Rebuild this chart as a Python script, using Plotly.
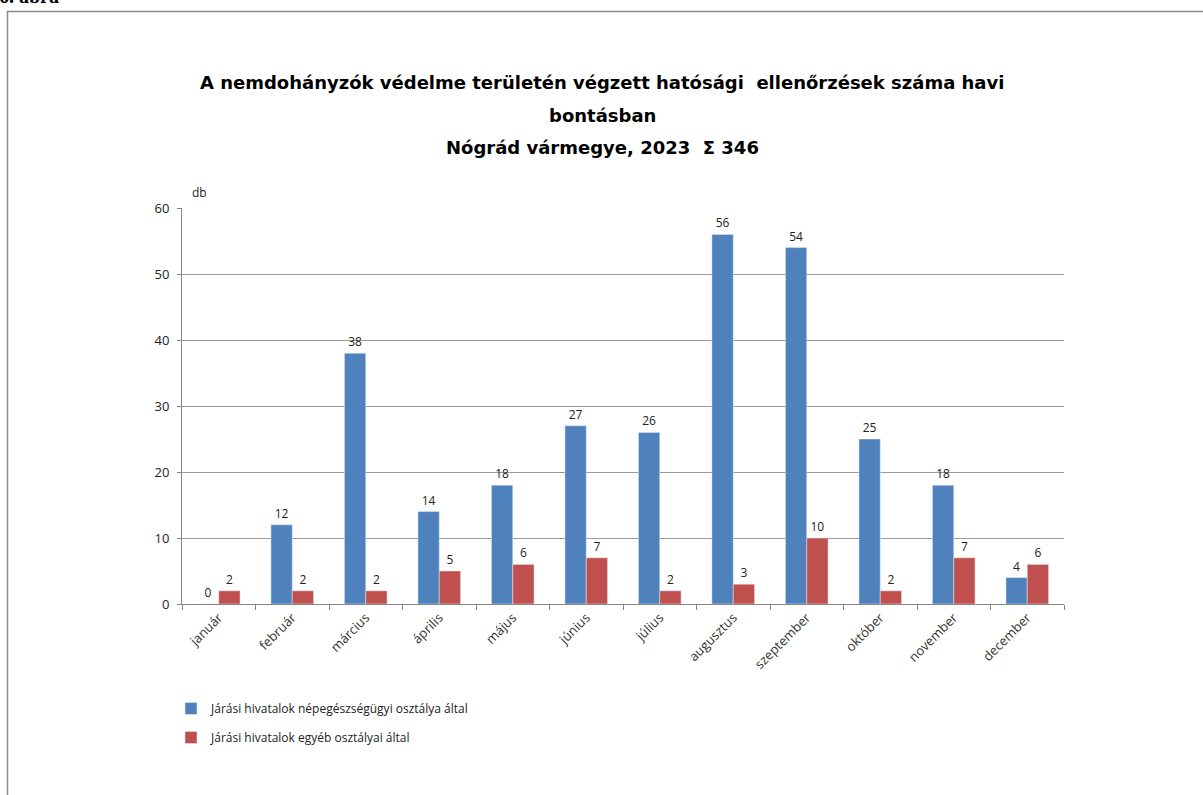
import plotly.graph_objects as go

months = ["január", "február", "március", "április", "május", "június",
          "július", "augusztus", "szeptember", "október", "november", "december"]
nepeg = [0, 12, 38, 14, 18, 27, 26, 56, 54, 25, 18, 4]
egyeb = [2, 2, 2, 5, 6, 7, 2, 3, 10, 2, 7, 6]
name_nepeg = "Járási hivatalok népegészségügyi osztálya által"
name_egyeb = "Járási hivatalok egyéb osztályai által"
title_lines = ["A nemdohányzók védelme területén végzett hatósági  ellenőrzések száma havi",
               "bontásban",
               "Nógrád vármegye, 2023  Σ 346"]

W, H = 1203, 795
L, R, T, B = 182, 139, 208, 191
pw, ph = W - L - R, H - T - B
FONT = "Open Sans"

def px_x(x):
    return (x - L) / pw

def px_y(y):
    return 1 + (T - y) / ph

fig = go.Figure()
fig.add_bar(x=months, y=nepeg, name=name_nepeg, marker_color="#4F81BD",
            legendgroup="a", text=nepeg, textposition="outside", cliponaxis=False,
            textfont=dict(size=12, color="#222", family=FONT))
fig.add_bar(x=months, y=egyeb, name=name_egyeb, marker_color="#C0504D",
            legendgroup="b", text=egyeb, textposition="outside", cliponaxis=False,
            textfont=dict(size=12, color="#222", family=FONT))

ann = []
for line, yy in zip(title_lines, [83, 115, 147]):
    ann.append(dict(text="<b>%s</b>" % line, x=px_x(602), y=px_y(yy), xref="paper", yref="paper",
                    showarrow=False, xanchor="center", yanchor="middle",
                    font=dict(size=18, family="DejaVu Sans", color="#000")))
ann.append(dict(text="db", x=px_x(190), y=px_y(192), xref="paper", yref="paper",
                showarrow=False, xanchor="left", yanchor="middle",
                font=dict(size=12, family=FONT, color="#222")))
ann.append(dict(text="<b>6. ábra</b>", x=px_x(-3), y=px_y(9), xref="paper", yref="paper",
                showarrow=False, xanchor="left", yanchor="bottom",
                font=dict(size=20, family="Liberation Serif", color="#000")))

fig.update_layout(
    width=W, height=H, margin=dict(l=L, r=R, t=T, b=B),
    paper_bgcolor="white", plot_bgcolor="white",
    barmode="group", bargap=0.42, bargroupgap=0.0,
    showlegend=True,
    legend=dict(x=px_x(171), y=px_y(694), xanchor="left", yanchor="top",
                font=dict(size=12, family=FONT, color="#222"),
                tracegroupgap=10, traceorder="grouped"),
    annotations=ann,
    shapes=[dict(type="rect", xref="paper", yref="paper",
                 x0=px_x(7.5), x1=px_x(1260), y0=px_y(11.5), y1=px_y(860),
                 line=dict(color="#8c8c8c", width=1.5), fillcolor="rgba(0,0,0,0)")],
    font=dict(family=FONT),
)
fig.update_xaxes(type="category", showgrid=False, showline=True, linecolor="#868686",
                 ticks="outside", tickson="boundaries", ticklen=5, tickcolor="#868686",
                 tickangle=-45, tickfont=dict(size=13, color="#333", family=FONT))
fig.update_yaxes(range=[0, 60], dtick=10, showgrid=True, gridcolor="#9a9a9a", gridwidth=1,
                 showline=True, linecolor="#868686", ticks="outside", ticklen=4,
                 tickcolor="#868686", zeroline=False, ticklabelstandoff=5,
                 tickfont=dict(size=13, color="#222", family=FONT))

fig.write_html("out.html", config={"displayModeBar": False},
               post_script="document.body.style.margin='0';")
